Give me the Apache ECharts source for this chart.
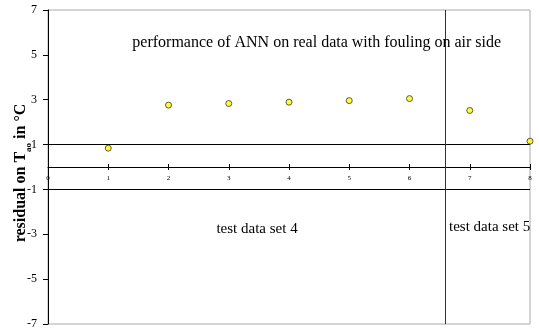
<!DOCTYPE html>
<html><head><meta charset="utf-8">
<script src="https://cdn.jsdelivr.net/npm/echarts@6/dist/echarts.min.js"></script>
<style>html,body{margin:0;padding:0;background:#fff}#c{width:539px;height:329px}</style>
</head><body><div id="c"></div>
<script>
const xValues = [1, 2, 3, 4, 5, 6, 7, 8];
const residuals = [0.84, 2.76, 2.83, 2.89, 2.96, 3.05, 2.52, 1.15];
const yTicks = [-7, -5, -3, -1, 1, 3, 5, 7];
const xTicks = [0, 1, 2, 3, 4, 5, 6, 7, 8];
const limitLines = [1, -1];
const separatorX = 6.6;
const titleText = 'performance of ANN on real data with fouling on air side';
const notes = [
  {text: 'test data set 4', coord: [3.47, -2.75]},
  {text: 'test data set 5', coord: [7.33, -2.7]}
];
const serif = '"Liberation Serif", "Times New Roman", serif';
const G = {left: 48, right: 9, top: 10, bottom: 5};
const H = 329 - G.top - G.bottom;
const chart = echarts.init(document.getElementById('c'));
chart.setOption({
  animation: false,
  grid: Object.assign({show: true, borderColor: '#aaaaaa', borderWidth: 1, containLabel: false, outerBoundsMode: 'none'}, G),
  xAxis: [{
    type: 'value', min: 0, max: 8, interval: 1, position: 'bottom', offset: -H / 2,
    axisLine: {show: true, onZero: false, lineStyle: {color: '#000', width: 1}},
    axisTick: {show: true, length: 3, inside: false, lineStyle: {color: '#000'}, customValues: xTicks},
    axisLabel: {show: true, fontFamily: serif, fontSize: 7, color: '#000', margin: 8, customValues: xTicks},
    splitLine: {show: false}
  }, {
    type: 'value', min: 0, max: 8, interval: 1, position: 'bottom', offset: -H / 2,
    axisLine: {show: false, onZero: false},
    axisTick: {show: true, length: 3, inside: true, lineStyle: {color: '#000'}, customValues: xTicks},
    axisLabel: {show: false},
    splitLine: {show: false}
  }],
  yAxis: {
    type: 'value', min: -7, max: 7,
    axisLine: {show: true, onZero: false, lineStyle: {color: '#000', width: 1}},
    axisTick: {show: true, length: 5, lineStyle: {color: '#000'}, customValues: yTicks},
    axisLabel: {fontFamily: serif, fontSize: 12, color: '#000', margin: 11, customValues: yTicks},
    splitLine: {show: false},
    name: '{m|residual on T}{s|ao}{m| in °C}',
    nameLocation: 'middle', nameGap: 19, nameRotate: 90, nameMoveOverlap: false,
    nameTextStyle: {
      padding: [0, 12, 0, 0],
      rich: {
        m: {fontFamily: serif, fontSize: 16, fontWeight: 'bold', color: '#000'},
        s: {fontFamily: serif, fontSize: 9, fontWeight: 'bold', color: '#000', verticalAlign: 'bottom', padding: [0,0,-4,0]}
      }
    }
  },
  series: [{
    type: 'scatter', xAxisIndex: 0, yAxisIndex: 0,
    data: xValues.map((x, i) => [x, residuals[i]]),
    symbol: 'circle', symbolSize: 6,
    itemStyle: {color: '#ffff00', borderColor: '#333', borderWidth: 1},
    z: 10,
    markLine: {
      silent: true, symbol: 'none', label: {show: false},
      data: [
        ...limitLines.map(v => ({yAxis: v, lineStyle: {color: '#000', width: 1, type: 'solid'}})),
        {xAxis: separatorX, lineStyle: {color: '#333', width: 1, type: 'solid'}}
      ]
    },
    markPoint: {
      silent: true, symbol: 'circle', symbolSize: 0,
      data: [
        {coord: [4.46, 5.55], label: {show: true, formatter: titleText, fontFamily: serif, fontSize: 16, color: '#000'}},
        ...notes.map(n => ({coord: n.coord, label: {show: true, formatter: n.text, fontFamily: serif, fontSize: 15, color: '#000'}}))
      ]
    }
  }]
});
</script></body></html>
